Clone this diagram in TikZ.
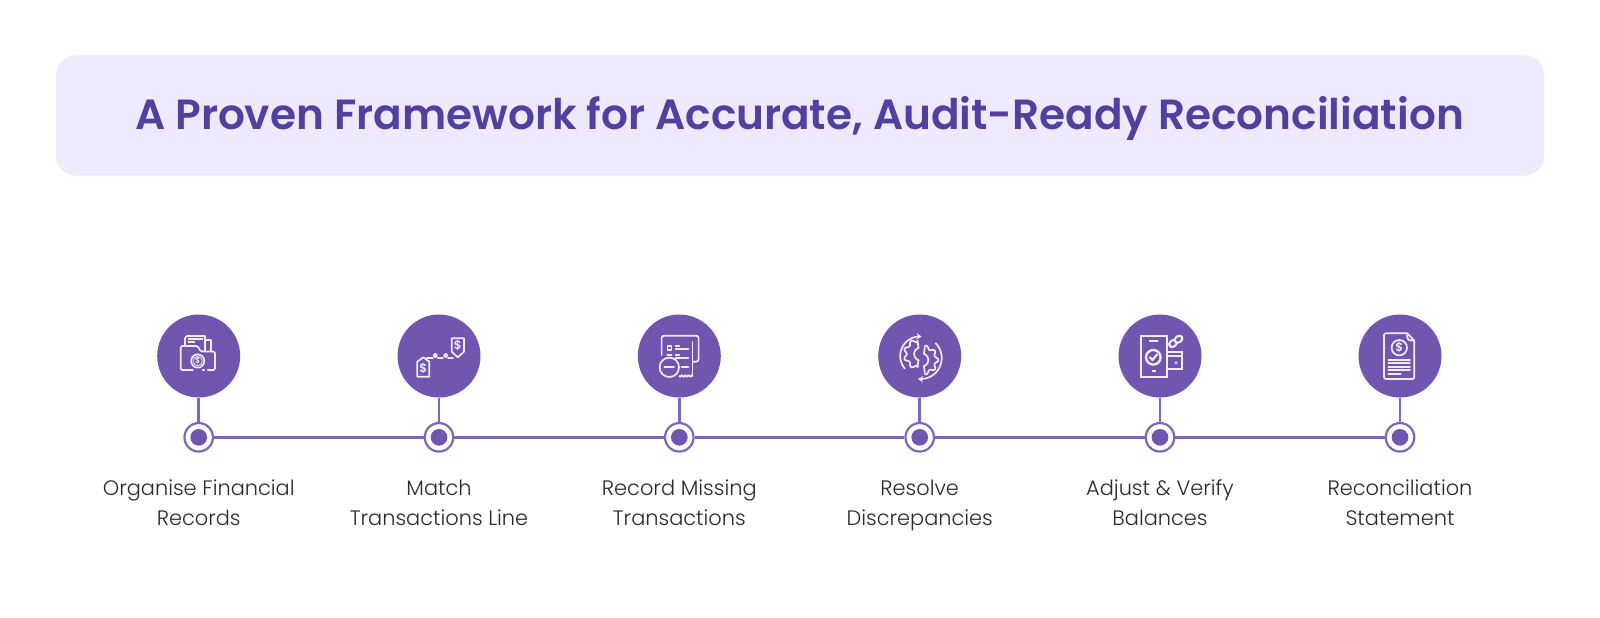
\documentclass[tikz,border=0pt]{standalone}
\usepackage{fontspec}
\setmainfont{Poppins Light}
\usetikzlibrary{arrows.meta}
\newfontfamily\ttlfont{Poppins SemiBold}
\definecolor{pur}{HTML}{7155AF}
\definecolor{lin}{HTML}{7F66BD}
\definecolor{ban}{HTML}{EEE9FC}
\definecolor{ttl}{HTML}{5040A0}
\definecolor{txt}{HTML}{2A2A2A}
\definecolor{icw}{HTML}{F0ECF8}
\tikzset{
 x=1pt,y=-1pt,
 bub/.style={circle,fill=pur,minimum size=83pt,inner sep=0pt},
 dotm/.style={circle,fill=pur,minimum size=16.7pt,inner sep=0pt},
 ringm/.style={circle,draw=lin,line width=2.2pt,fill=white,minimum size=28.5pt,inner sep=0pt},
 lbl/.style={align=center,text=txt,font=\fontsize{20.9}{30}\selectfont,anchor=base},
 ic/.style={draw=icw,line width=1.7pt,line cap=round,line join=round},
 ict/.style={draw=icw,line width=2.3pt,line join=miter},
 dol/.style={text=icw,inner sep=0pt,font=\ttlfont\fontsize{#1}{#1}\selectfont},
 conn/.style={draw=lin,line width=2.5pt},
}
\begin{document}
\begin{tikzpicture}
\useasboundingbox (0,0) rectangle (1600,618);
\fill[white] (0,0) rectangle (1600,618);
\node[fill=ban,rounded corners=20pt,minimum width=1488pt,minimum height=120.4pt,inner sep=0pt] (banner) at (800,115.5) {};
\node[text=ttl,font=\ttlfont\fontsize{42.2}{45}\selectfont,anchor=base] (title) at (799.5,129.3) {A Proven Framework for Accurate, Audit-Ready Reconciliation};
\foreach \n/\x in {1/198.7,2/439,3/679.3,4/919.7,5/1160,6/1400}{
  \node[bub] (b\n) at (\x,356) {};
  \node[ringm] (r\n) at (\x,437.3) {};
  \node[dotm] (d\n) at (\x,437.3) {};
  \draw[conn] (b\n) -- (r\n);
}
\foreach \a/\b in {1/2,2/3,3/4,4/5,5/6}{\draw[conn] (r\a) -- (r\b);}
\node[lbl] (l1) at (198.7,525) {Organise Financial\\Records};
\node[lbl] (l2) at (439,525) {Match\\Transactions Line};
\node[lbl] (l3) at (679.3,525) {Record Missing\\Transactions};
\node[lbl] (l4) at (919.7,525) {Resolve\\Discrepancies};
\node[lbl] (l5) at (1160,525) {Adjust \& Verify\\Balances};
\node[lbl] (l6) at (1400,525) {Reconciliation\\Statement};
% icon 1: folder
\begin{scope}[shift={(198.7,356)}]
\draw[ic] (-13.7,-10) -- (-13.7,-18) to[out=-90,in=180] (-11.7,-20) -- (6.3,-20) -- (6.3,-4.5);
\draw[ic] (7,-16) -- (12,-16) -- (12,-4.5);
\draw[ic] (-10.3,-17.3) -- (3.7,-17.3) (-10.3,-14.3) -- (-4.3,-14.3);
\draw[ic,rounded corners=1.5pt] (-6,14) -- (-18,14) -- (-18,-10) -- (-1,-10) -- (2,-4.5) -- (16.3,-4.5) -- (16.3,14) -- (9,14);
\draw[ic] (4,14) -- (5.5,14);
\draw[ic,fill=pur] (-1,5) circle[radius=6.6];
\draw[ic,line width=.8pt] (-1,5) circle[radius=4.6];
\node[dol=8] (s1) at (-1,5) {\$};
\end{scope}
% icon 2: price tags
\begin{scope}[shift={(439,356)}]
\draw[ic] (-21.7,5.7) -- (-15.7,1.3) -- (-9.7,5.7) -- (-9.7,20.7) -- (-21.7,20.7) -- cycle;
\draw[ic] (12.7,-17.7) -- (25,-17.7) -- (25,-4.3) -- (18.7,1.3) -- (12.7,-4.3) -- cycle;
\node[dol=12] (s2a) at (-15.7,12.7) {\$};
\node[dol=12] (s2b) at (18.7,-11) {\$};
\draw[ic] (-12.3,1.7) -- (-6,1.7) (-1.3,1.7) -- (4,1.7) (9,1.7) -- (14,1.7);
\draw[ic] (-3.7,-.5) circle[radius=1.8] (6.7,-.5) circle[radius=1.8];
\end{scope}
% icon 3: receipt
\begin{scope}[shift={(679.3,356)}]
\draw[ic,rounded corners=2.5pt] (-17.7,-1) -- (-17.7,-20.3) -- (19.3,-20.3) -- (19.3,5.7) -- (13.3,5.7);
\draw[ic] (13.3,-14.3) -- (13.3,20);
\draw[ic] (-11.7,-10.3) rectangle (-7.7,-6);
\draw[ic] (-3.7,-10.3) -- (0,-10.3) (-3.7,-7) -- (9,-7) (-12,-1) -- (-7.7,-1) (-3.7,-1) -- (0,-1) (-3.7,2.3) -- (9,2.3) (2.3,11.3) -- (9,11.3);
\draw[ic] (-10,11.3) circle[radius=9.7];
\draw[ic] (-15,11.3) -- (-5.3,11.3);
\draw[ic] plot[domain=0:13.3,samples=25,smooth] ({\x},{20+.8*sin(\x*108)});
\end{scope}
% icon 4: gears
\begin{scope}[shift={(919.7,356)}]
\draw[ic,-{Stealth[length=5pt,width=6.5pt]}] plot[domain=140:275,samples=25,smooth] ({19.5*cos(\x)},{19.5*sin(\x)});
\draw[ic,-{Stealth[length=5pt,width=6.5pt]}] plot[domain=-45:97,samples=25,smooth] ({1+21*cos(\x)},{2+21*sin(\x)});
\draw[ic] plot[domain=95:265,samples=60,smooth] ({-1+(13.5+1.6*cos(\x*9))*cos(\x)},{-2+(13.5+1.6*cos(\x*9))*sin(\x)});
\draw[ic] plot[domain=-85:85,samples=60,smooth] ({4+(13+1.6*cos(\x*9))*cos(\x)},{4+(13+1.6*cos(\x*9))*sin(\x)});
\draw[ic] plot[domain=110:250,samples=20,smooth] ({1+6.5*cos(\x)},{-2+6.5*sin(\x)});
\draw[ic] plot[domain=-70:70,samples=20,smooth] ({2+6.5*cos(\x)},{4+6.5*sin(\x)});
\draw[ic] (-2.2,-15.5) -- (-1.2,-8) (-2.2,11.4) -- (-1.2,4);
\draw[ic] (5.1,-9) -- (4.2,-2) (5.1,17) -- (4.2,10);
\end{scope}
% icon 5: phone, chain, card
\begin{scope}[shift={(1160,356)}]
\draw[ict] (-19.3,-20.3) rectangle (6.7,21.3);
\draw[ict] (-11,-15) -- (-1.7,-15) (-8,15) -- (-4,15);
\draw[ict] (-6.7,1.3) circle[radius=7.3];
\draw[ic,line width=2.2pt] (-10,1.3) -- (-7.5,4) -- (-3,-1.5);
\draw[ict] (6.7,-4.3) rectangle (21.7,13);
\draw[ict] (6.7,0) -- (21.7,0);
\fill[icw] (16,6.7) circle[radius=1.4];
\draw[icw,line width=8pt,line cap=round] (12,-11.7) -- (14,-13.3);
\draw[pur,line width=3.5pt,line cap=round] (12,-11.7) -- (14,-13.3);
\draw[icw,line width=8pt,line cap=round] (17.5,-16) -- (19.5,-17.5);
\draw[pur,line width=3.5pt,line cap=round] (17.5,-16) -- (19.5,-17.5);
\end{scope}
% icon 6: statement
\begin{scope}[shift={(1400,356)}]
\draw[ic,rounded corners=2pt] (7.3,-22.7) -- (-16,-22.7) -- (-16,23) -- (14.3,23) -- (14.3,-15.3);
\draw[ic] (7.3,-22.7) -- (14.3,-15.3) (7.3,-22.7) to[bend right=25] (8.5,-16) to[bend right=10] (14.3,-15.3);
\draw[ic] (-0.7,-8.3) circle[radius=7.7];
\node[dol=12] (s6) at (-0.7,-8.3) {\$};
\foreach \y in {4,7.3,10.7,14}{\draw[ic] (-11.7,\y) -- (10,\y);}
\draw[ic] (-11.7,17.7) -- (0.7,17.7);
\end{scope}
\end{tikzpicture}
\end{document}
